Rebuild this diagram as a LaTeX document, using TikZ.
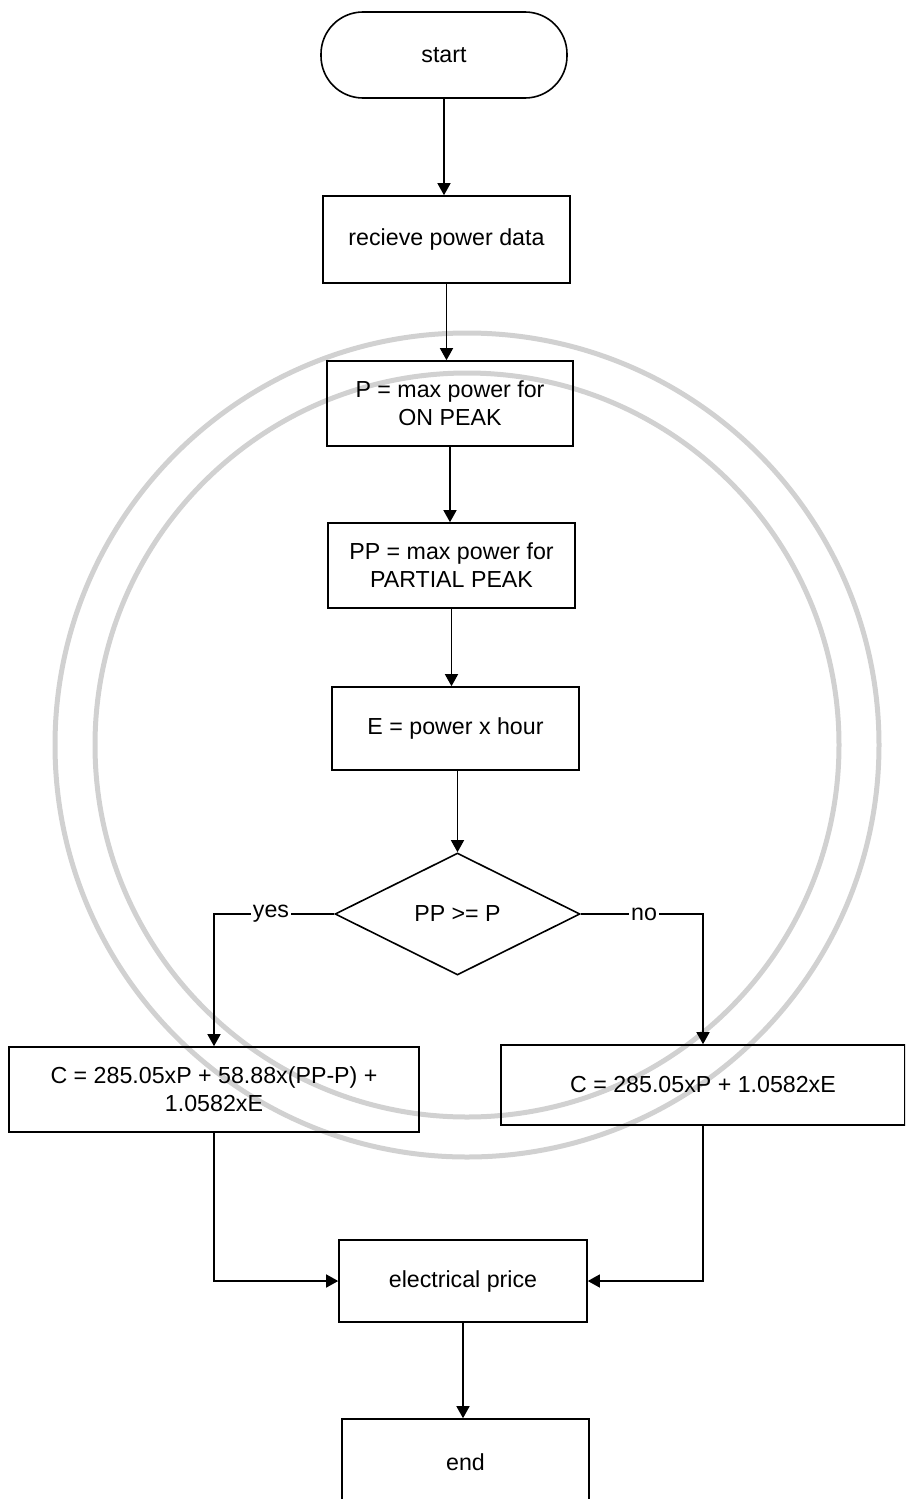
\documentclass[tikz,border=0pt]{standalone}
\usepackage{fontspec}
\setmainfont{Liberation Sans}
\usetikzlibrary{shapes.geometric,arrows.meta}
\begin{document}
\begin{tikzpicture}[x=0.5pt,y=-0.5pt,
  font=\fontsize{11.6pt}{14pt}\selectfont,
  box/.style={draw,line width=0.8pt,inner sep=2pt,align=center},
  arr/.style={line width=0.7pt,-{Triangle[length=6pt,width=6.5pt]}},
  lbl/.style={fill=white,inner sep=1pt},
  seal/.style={draw=black!18,line width=2.5pt}]
\useasboundingbox (0,0) rectangle (905,1499);
\clip (0,0) rectangle (905,1499);
% faint seal watermark
\draw[seal] (467,745) circle[radius=412];
\draw[seal] (467,745) circle[radius=372];
% nodes
\node[box,rounded corners=21pt,minimum width=123pt,minimum height=43pt] (start) at (444,55) {start};
\node[box,minimum width=123.5pt,minimum height=43.5pt] (recv) at (446.5,239.5) {recieve power data};
\node[box,minimum width=123pt,minimum height=42.5pt] (P) at (450,403.5) {P = max power for\\ON PEAK};
\node[box,minimum width=123.5pt,minimum height=42.5pt] (PP) at (451.5,565.5) {PP = max power for\\PARTIAL PEAK};
\node[box,minimum width=123.5pt,minimum height=41.5pt] (E) at (455.5,728.5) {E = power x hour};
\node[draw,line width=0.8pt,diamond,inner sep=0pt,minimum width=122.5pt,minimum height=61pt] (D) at (457.5,914) {PP >= P};
\node[box,minimum width=205pt,minimum height=42.5pt] (C1) at (214,1089.5) {C = 285.05xP + 58.88x(PP-P) +\\1.0582xE};
\node[box,minimum width=202pt,minimum height=40pt] (C2) at (703,1085) {C = 285.05xP + 1.0582xE};
\node[box,minimum width=124pt,minimum height=41pt] (price) at (463,1281) {electrical price};
\node[box,minimum width=123.5pt,minimum height=43pt] (end) at (465.5,1462) {end};
% connectors
\draw[arr] (start.south) -- (start.south |- recv.north);
\draw[arr] (recv.south) -- (recv.south |- P.north);
\draw[arr] (P.south) -- (P.south |- PP.north);
\draw[arr] (PP.south) -- (PP.south |- E.north);
\draw[arr] (E.south -| D.north) -- (D.north);
\draw[arr] (D.west) -- (D.west -| C1.north) -- (C1.north);
\draw[arr] (D.east) -- (D.east -| C2.north) -- (C2.north);
\node[lbl] (yes) at (271,914) {yes};
\node[lbl] (no) at (644,914) {no};
\draw[arr] (C1.south) |- (price.west);
\draw[arr] (C2.south) |- (price.east);
\draw[arr] (price.south) -- (price.south |- end.north);
\end{tikzpicture}
\end{document}
